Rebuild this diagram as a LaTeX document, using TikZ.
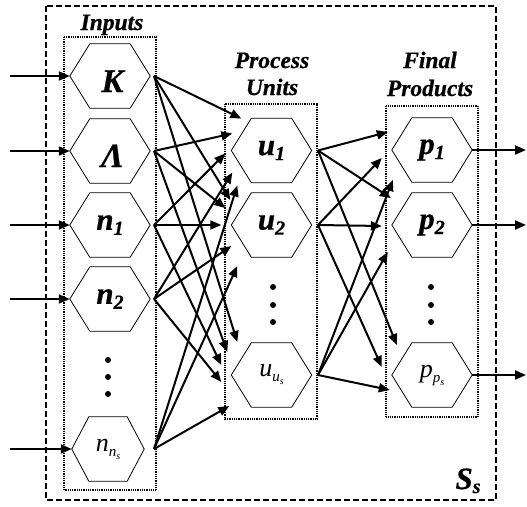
\documentclass[tikz,border=0pt]{standalone}
\usepackage{graphicx}
\usepackage{fontspec}
\setmainfont{Liberation Serif}[BoldItalicFeatures={FakeBold=0.7}]
\usetikzlibrary{arrows.meta}

% hexagon labels
\newcommand{\symlbl}[2]{\hspace{5pt}\raisebox{-16pt}[0pt][0pt]{\fontsize{#2}{#2}\selectfont\bfseries\itshape #1}}
\newcommand{\idxlbl}[2]{\fontsize{31}{31}\selectfont\bfseries\itshape #1\raisebox{-5pt}{\fontsize{20}{20}\selectfont #2}}
\newcommand{\lastlbl}[1]{\fontsize{26}{26}\selectfont\itshape #1\raisebox{-5pt}{\fontsize{15}{15}\selectfont #1\raisebox{-3pt}{\fontsize{10}{10}\selectfont s}}}

\begin{document}
\begin{tikzpicture}[x=1pt,y=-1pt,
    hexa/.style={minimum width=80pt,minimum height=64pt,inner sep=0pt},
    flow/.style={line width=2pt,-{Triangle[length=11pt,width=9pt]}},
    group/.style={line width=1.2pt,dash pattern=on 1pt off 0.8pt},
    head/.style={anchor=base,font=\fontsize{23.5}{26}\selectfont\bfseries\itshape}]

\useasboundingbox (0,0) rectangle (527,506);

% System boundary
\draw[line width=1.6pt,dash pattern=on 6pt off 3pt] (46,6) rectangle (496,500);
\node[anchor=base west,font=\fontsize{31}{31}\selectfont\bfseries\itshape] (Ss) at (452,489) {S\raisebox{-4pt}{\fontsize{20}{20}\selectfont s}};

% Groups
\draw[group] (64,37) rectangle (156,490);
\draw[group] (225,104) rectangle (317,419);
\draw[group] (386,106) rectangle (478,417);

\node[head] (inhead) at (112,30) {Inputs};
\node[head] (prochead) at (272,68) {Process};
\node[head] (unithead) at (272,95) {Units};
\node[head] (finhead) at (430,68) {Final};
\node[head] (prodhead) at (430,96) {Products};

% Inputs
\node[hexa] (K) at (110,76) {\symlbl{K}{33}};
\node[hexa] (L) at (110,151) {\symlbl{Λ}{34}};
\node[hexa] (n1) at (110,225) {\idxlbl{n}{1}};
\node[hexa] (n2) at (110,299) {\idxlbl{n}{2}};
\node[hexa,minimum width=72pt] (nn) at (108,449) {\lastlbl{n}};

% Process units
\node[hexa] (u1) at (271.5,150.5) {\idxlbl{u}{1}};
\node[hexa] (u2) at (271.5,225) {\idxlbl{u}{2}};
\node[hexa] (uu) at (271.5,375) {\lastlbl{u}};

% Final products
\node[hexa] (p1) at (432,150) {\idxlbl{p}{1}};
\node[hexa] (p2) at (432,225) {\idxlbl{p}{2}};
\node[hexa] (pp) at (432,375) {\lastlbl{p}};

% Hexagon outlines
\foreach \n/\d in {K/20,L/20,n1/20,n2/20,nn/17,u1/20,u2/20,uu/20,p1/20,p2/20,pp/20}
{
\draw[line width=0.8pt] (\n.west) -- ([xshift=\d]\n.north west) -- ([xshift=-\d]\n.north east)
  -- (\n.east) -- ([xshift=-\d]\n.south east) -- ([xshift=\d]\n.south west) -- cycle;
}

% Vertical dots
\foreach \y in {360,377,394}
{
\fill (108,\y) circle (3);
}
\foreach \x in {273,431}
{
\foreach \y in {287,305,322}
{
\fill (\x,\y) circle (3);
}
}

% Feeds and outputs
\coordinate (leftend) at (10,0);
\coordinate (rightend) at (526,0);
\coordinate (inedge) at (154,0);
\coordinate (unitedge) at (318,0);

\foreach \n in {K,L,n1,n2,nn}
{
\draw[flow] (leftend |- \n.west) -- (\n.west);
}
\foreach \n in {p1,p2,pp}
{
\draw[flow] (\n.east) -- (rightend |- \n.east);
}

% Inputs to process units
\foreach \s/\t/\dx/\dy in {K/u1/10/-32, L/u1/1/-17, n1/u1/-6/3, n2/u1/1/22, nn/u1/6/35,
    K/u2/-1/-25, L/u2/-6/-17, n1/u2/-10/0, n2/u2/0/21, nn/u2/6/41,
    K/uu/6/-33, L/uu/-4/-23, n1/uu/-10/-10, n2/uu/-10/7, nn/uu/-2/31}
{
\draw[flow] (inedge |- \s.east) -- ([shift={(\dx,\dy)}]\t.west);
}

% Process units to final products
\foreach \s/\t/\dx/\dy in {u1/p1/-4/-18, u2/p1/-10/8, uu/p1/1/30,
    u1/p2/-1/-27, u2/p2/-10/1, uu/p2/-4/27,
    u1/pp/5/-30, u2/pp/-10/-8, uu/pp/-2/15}
{
\draw[flow] (unitedge |- \s.east) -- ([shift={(\dx,\dy)}]\t.west);
}

\end{tikzpicture}
\end{document}
